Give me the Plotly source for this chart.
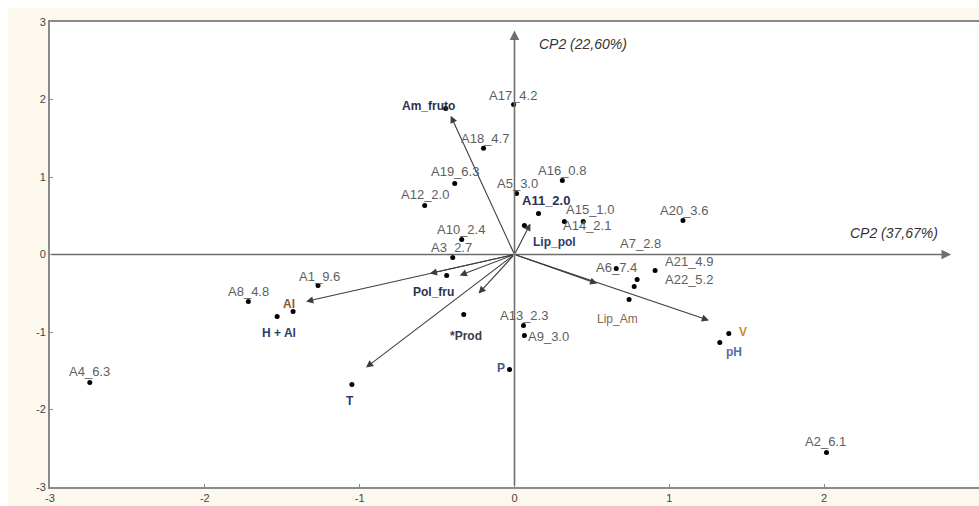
import plotly.graph_objects as go

# ---------------- data ----------------
sample_names = ["A17_4.2", "A18_4.7", "A19_6.3", "A12_2.0", "A16_0.8", "A5_3.0",
                "A11_2.0", "A15_1.0", "A14_2.1", "A20_3.6", "A7_2.8", "A6_7.4",
                "A21_4.9", "A22_5.2", "A13_2.3", "A9_3.0", "A1_9.6", "A8_4.8",
                "A4_6.3", "A10_2.4", "A3_2.7", "A2_6.1"]
sample_x = [-0.006, -0.20, -0.386, -0.58, 0.309, 0.013, 0.155, 0.322, 0.444, 1.088,
            0.792, 0.657, 0.908, 0.773, 0.058, 0.064, -1.269, -1.719, -2.743,
            -0.341, -0.399, 2.015]
sample_y = [1.935, 1.37, 0.916, 0.632, 0.955, 0.787, 0.529, 0.426, 0.426, 0.439,
            -0.323, -0.181, -0.206, -0.413, -0.916, -1.045, -0.40, -0.606, -1.652,
            0.194, -0.039, -2.555]

var_names = ["Am_fruto", "Lip_pol", "Pol_fru", "*Prod", "P", "T", "Al", "H + Al",
             "Lip_Am", "V", "pH"]
var_x = [-0.444, 0.064, -0.438, -0.328, -0.032, -1.05, -1.43, -1.533, 0.74, 1.384, 1.326]
var_y = [1.884, 0.374, -0.271, -0.774, -1.484, -1.677, -0.735, -0.80, -0.581, -1.019, -1.135]

# loading vectors (arrow tips)
arrow_names = ["Am_fruto", "Lip_pol", "Lip_Am", "V/pH", "Al", "H + Al", "Pol_fru", "Prod", "T"]
arrow_x = [-0.412, 0.103, 0.534, 1.256, -1.346, -0.547, -0.354, -0.232, -0.959]
arrow_y = [1.79, 0.40, -0.374, -0.85, -0.606, -0.245, -0.271, -0.503, -1.458]

x_ticks = [-3, -2, -1, 0, 1, 2, 3]
y_ticks = [-3, -2, -1, 0, 1, 2, 3]
axis_title_x = "CP2 (37,67%)"
axis_title_y = "CP2 (22,60%)"

# ---------------- style (label offsets in px: right, down) ----------------
sample_offsets = [(-1, -9), (1, -10), (0, -12), (0, -11), (0, -10), (1, -10),
                  (7, -13), (26, -12), (4, 4), (1, -10), (3, -36), (0, -1),
                  (34, -9), (55, -7), (1, -10), (24, 1), (1, -9), (0, -10),
                  (0, -11), (-1, -10), (-1, -10), (-1, -11)]
var_offsets = [(-17, -2), (30, 16), (-13, 16), (2, 22), (-9, -2), (-2, 17),
               (-4, -7), (2, 16), (-12, 19), (14, -1), (14, 10)]
var_colors = ["#2B3250", "#2B3A6B", "#2B3250", "#3A3A50", "#4A5A80", "#2B3A6B",
              "#8B5A20", "#2B3A6B", "#7A6A58", "#D08830", "#5070A0"]
var_bold = [True, True, True, True, True, True, True, True, False, True, True]

FONT = "Liberation Sans, Arial, sans-serif"

fig = go.Figure()

# points
fig.add_trace(go.Scatter(x=sample_x, y=sample_y, mode="markers",
                         marker=dict(color="black", size=5), hoverinfo="text",
                         text=sample_names, showlegend=False))
fig.add_trace(go.Scatter(x=var_x, y=var_y, mode="markers",
                         marker=dict(color="black", size=5), hoverinfo="text",
                         text=var_names, showlegend=False))

annotations = []
# axis arrows (CP1 horizontal, CP2 vertical)
annotations.append(dict(x=2.82, y=0, ax=-3, ay=0, xref="x", yref="y", axref="x", ayref="y",
                        showarrow=True, arrowhead=2, arrowsize=1.2, arrowwidth=1.6,
                        arrowcolor="#6e6e6e", text=""))
annotations.append(dict(x=0, y=2.89, ax=0, ay=-3, xref="x", yref="y", axref="x", ayref="y",
                        showarrow=True, arrowhead=2, arrowsize=1.2, arrowwidth=1.6,
                        arrowcolor="#6e6e6e", text=""))

# loading arrows
for ax_, ay_ in zip(arrow_x, arrow_y):
    annotations.append(dict(x=ax_, y=ay_, ax=0, ay=0, xref="x", yref="y", axref="x", ayref="y",
                            showarrow=True, arrowhead=2, arrowsize=1.3, arrowwidth=1.1,
                            arrowcolor="#3c3c3c", text=""))

# sample labels
for name, sx, sy, (dx, dy) in zip(sample_names, sample_x, sample_y, sample_offsets):
    bold = name == "A11_2.0"
    annotations.append(dict(x=sx, y=sy, xref="x", yref="y", showarrow=False,
                            text=f"<b>{name}</b>" if bold else name,
                            xshift=dx, yshift=-dy,
                            font=dict(family=FONT, size=13,
                                      color="#2B3250" if bold else "#5e5e5e")))

# variable labels
for name, vx, vy, (dx, dy), col, b in zip(var_names, var_x, var_y, var_offsets, var_colors, var_bold):
    annotations.append(dict(x=vx, y=vy, xref="x", yref="y", showarrow=False,
                            text=f"<b>{name}</b>" if b else name,
                            xshift=dx, yshift=-dy,
                            font=dict(family=FONT, size=12, color=col)))

# axis titles
annotations.append(dict(x=0.148, y=2.71, xref="x", yref="y", showarrow=False,
                        xanchor="left", text=f"<i>{axis_title_y}</i>",
                        font=dict(family=FONT, size=14, color="#333333")))
annotations.append(dict(x=2.157, y=0.28, xref="x", yref="y", showarrow=False,
                        xanchor="left", text=f"<i>{axis_title_x}</i>",
                        font=dict(family=FONT, size=14, color="#333333")))

fig.update_layout(
    width=971, height=498,
    margin=dict(l=42, r=0, t=14, b=19),
    paper_bgcolor="#FCF8EE",
    plot_bgcolor="white",
    annotations=annotations,
    xaxis=dict(range=[-3, 3], tickvals=x_ticks, ticktext=[str(t) for t in x_ticks],
               showgrid=False, zeroline=False, showline=True, mirror=True, automargin=False,
               linecolor="#8a8a8a", linewidth=2, ticks="inside", ticklen=3,
               tickcolor="#8a8a8a", tickfont=dict(family=FONT, size=11, color="#444444")),
    yaxis=dict(range=[-3, 3], tickvals=y_ticks, ticktext=[str(t) for t in y_ticks],
               showgrid=False, zeroline=False, showline=True, mirror=True, automargin=False,
               linecolor="#8a8a8a", linewidth=2, ticks="inside", ticklen=3,
               tickcolor="#8a8a8a", tickfont=dict(family=FONT, size=11, color="#444444")),
)

page_css = ("document.body.style.margin='8px 0 0 8px';"
            "document.body.style.overflow='hidden';"
            "document.documentElement.style.overflow='hidden';")
fig.write_html("out.html", post_script=page_css)
